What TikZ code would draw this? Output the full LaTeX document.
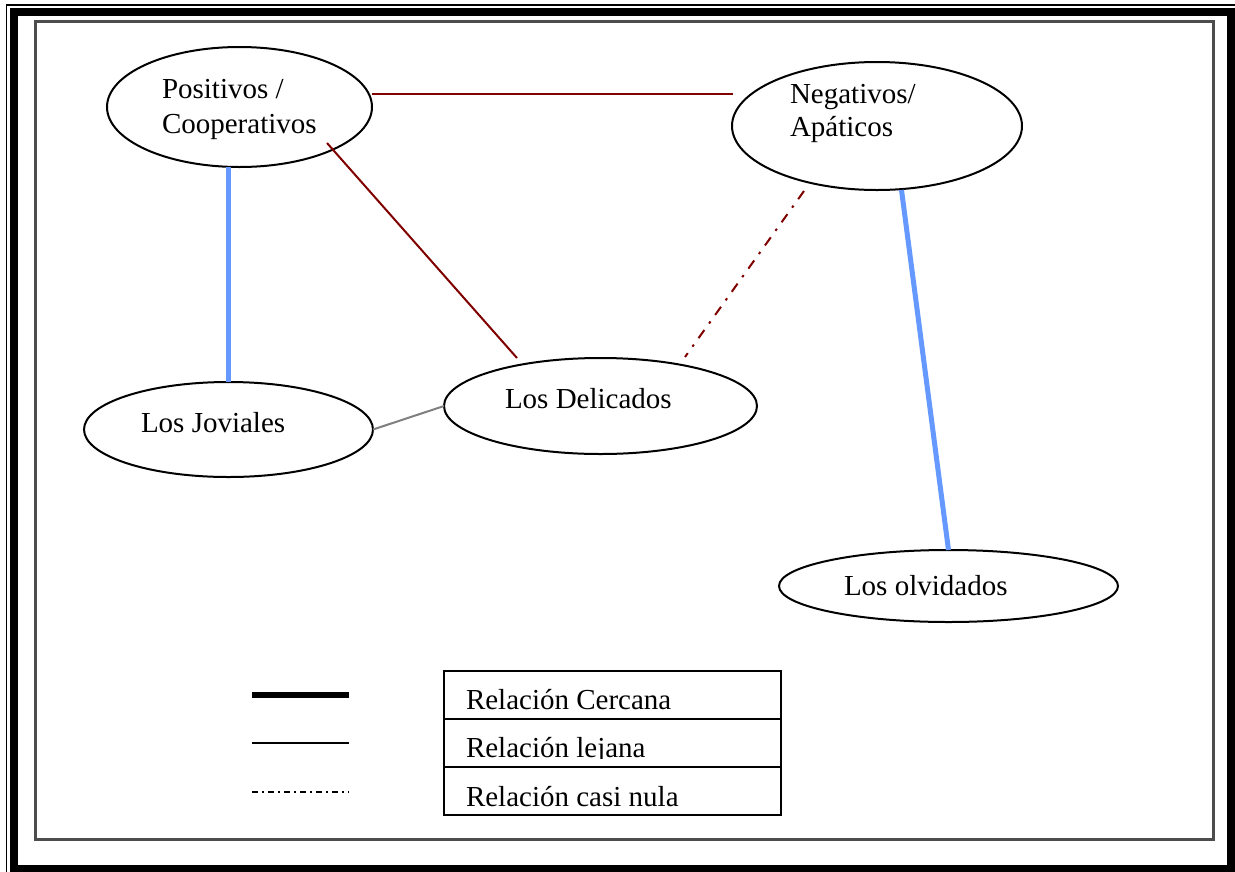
\documentclass[tikz,border=0pt]{standalone}
\usepackage{fontspec}
\setmainfont{Liberation Serif}
\usetikzlibrary{shapes.geometric,calc}
\definecolor{linkred}{HTML}{800000}
\definecolor{linkblue}{HTML}{6699FF}
\definecolor{framegray}{HTML}{4D4D4D}
\begin{document}
\begin{tikzpicture}[x=1pt,y=-1pt,
  oval/.style={ellipse,draw=black,line width=2pt,inner sep=0pt,outer sep=0pt},
  lbl/.style={anchor=base west,inner sep=0pt,outer sep=0pt,font=\fontsize{29}{35}\selectfont},
  cell/.style={rectangle,draw=black,line width=2pt,inner sep=0pt,outer sep=0pt,
               minimum width=337pt,minimum height=48pt,anchor=north west},
  nearlink/.style={draw=linkblue,line width=5pt},
  farlink/.style={draw=linkred,line width=2pt},
  nulllink/.style={draw=linkred,line width=2pt,dash pattern=on 10pt off 8pt on 2.5pt off 8pt},
  softlink/.style={draw=gray,line width=2pt},
]
\useasboundingbox (0,0) rectangle (1235,871);
\fill[white] (0,0) rectangle (1235,871);

% page border: thin outer rule, thick inner rule, grey inner frame
\draw[line width=1.5pt] (6.5,5) rectangle (1240,876);
\draw[line width=8pt] (14,12) rectangle (1231,868.5);
\draw[framegray,line width=2.8pt] (35.5,21.5) rectangle (1213.5,839.5);

% groups
\node[oval,minimum width=265pt,minimum height=120pt] (pos) at (239.5,107) {};
\node[oval,minimum width=290pt,minimum height=128pt] (neg) at (877,126) {};
\node[oval,minimum width=289pt,minimum height=95pt]  (jov) at (228.5,429.5) {};
\node[oval,minimum width=313pt,minimum height=96pt]  (del) at (600.5,406) {};
\node[oval,minimum width=339pt,minimum height=72pt]  (olv) at (948.5,586) {};

\node[lbl] (posA) at (162,98)  {Positivos /};
\node[lbl] (posB) at (162,133) {Cooperativos};
\node[lbl] (negA) at (790,103) {Negativos/};
\node[lbl] (negB) at (790,136) {Apáticos};
\node[lbl] (jovT) at (141,432) {Los Joviales};
\node[lbl] (delT) at (505,408) {Los Delicados};
\node[lbl] (olvT) at (844,595) {Los olvidados};

% relations
\draw[farlink] ($(pos.east)+(0,-13)$) -- ($(neg.west)+(1,-32)$);
\draw[farlink] ($(pos.center)+(87.5,36)$) -- ($(del.north)+(-83.5,0)$);
\draw[nearlink] (jov.north |- pos.south) -- (jov.north);
\draw[nulllink] ($(neg.south)+(-73,1)$) -- ($(del.north)+(84.5,-1)$);
\draw[nearlink] ($(neg.south)+(24.5,0)$) -- (olv.north);
\draw[softlink] (jov.east) -- (del.west);

% legend
\coordinate (k1a) at (252,695); \coordinate (k1b) at (349,695);
\coordinate (k2a) at (252,743); \coordinate (k2b) at (349,743);
\coordinate (k3a) at (252,792); \coordinate (k3b) at (349,792);
\draw[black,line width=5.5pt] (k1a) -- (k1b);
\draw[black,line width=2.5pt] (k2a) -- (k2b);
\draw[black,line width=1.5pt,dash pattern=on 6pt off 4pt on 2pt off 4pt] (k3a) -- (k3b);

\node[cell] (c1) at (444,671) {};
\node[cell] (c2) at (c1.south west) {};
\node[cell] (c3) at (c2.south west) {};
\node[lbl] (t1) at (466,709) {Relación Cercana};
\begin{scope}
  % the cell cuts the text off at its baseline
  \clip (c2.north west) rectangle ($(c2.east)+(0,15.5)$);
  \node[lbl] (t2) at (466,757) {Relación lejana};
\end{scope}
\node[lbl] (t3) at (466,806) {Relación casi nula};
\end{tikzpicture}
\end{document}
